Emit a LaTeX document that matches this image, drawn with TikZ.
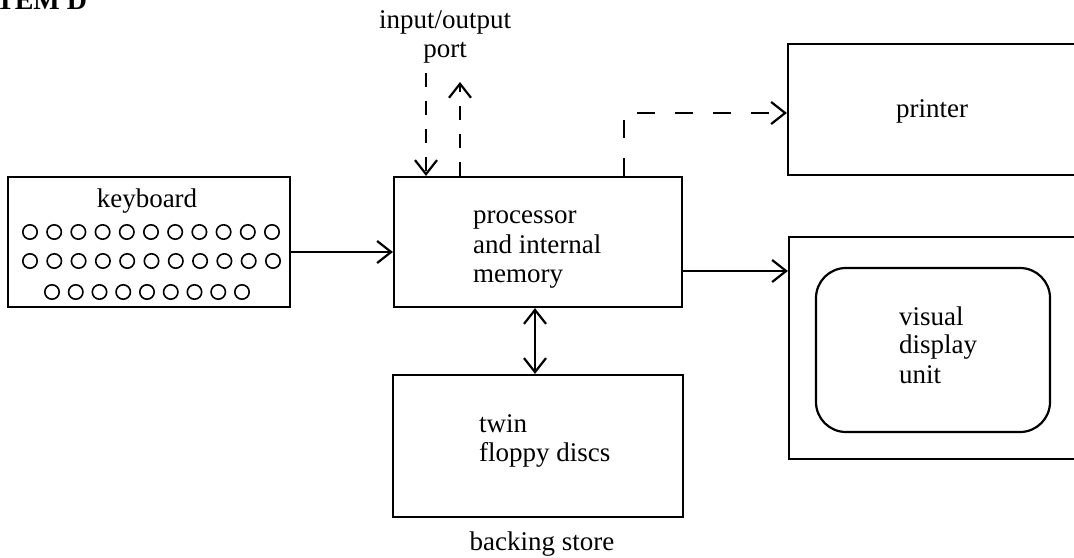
\documentclass[tikz,border=0pt]{standalone}
\usepackage{fontspec}
\setmainfont{Liberation Serif}
\usetikzlibrary{arrows.meta,calc}
\begin{document}
\begin{tikzpicture}[x=0.5pt,y=-0.5pt,
  line width=1.1pt,
  every node/.style={font=\fontsize{13.5}{15}\selectfont, inner sep=0pt},
  block/.style={draw, rectangle, minimum width=#1, line width=1.1pt},
  label/.style={anchor=base west},
  ctext/.style={anchor=base},
  arr/.style={-{Straight Barb[length=7pt,width=11pt,line width=1.1pt]}},
  dblarr/.style={{Straight Barb[length=7pt,width=11pt,line width=1.1pt]}-{Straight Barb[length=7pt,width=11pt,line width=1.1pt]}},
  iodash/.style={dash pattern=on 7pt off 7pt},
  prdash/.style={dash pattern=on 9pt off 10pt},
  key/.style={line width=0.8pt}
]
\useasboundingbox (0,0) rectangle (1074,557);
\clip (0,0) rectangle (1074,557);

% heading
\node[label, font=\fontsize{14}{16}\selectfont\bfseries] (title) at (-5,10) {TEM D};

% blocks
\node[block=141pt, minimum height=65pt] (kb) at (149,242) {};
\node[block=144pt, minimum height=65pt] (proc) at (538,242) {};
\node[block=145pt, minimum height=71pt] (floppy) at (538,446) {};
\node[block=151pt, minimum height=65.5pt] (printer) at (939,109.5) {};
\node[block=150.5pt, minimum height=111pt] (vdu) at (939.5,348) {};
\node[draw, rectangle, rounded corners=15pt, minimum width=117pt, minimum height=82pt, line width=1.1pt] (screen) at (933,350) {};

% keyboard keys
\foreach \i in {0,...,10} {
  \draw[key] (30+24.2*\i,232) circle[radius=3.6pt];
  \draw[key] (30+24.3*\i,261) circle[radius=3.6pt];
}
\foreach \i in {0,...,8} {
  \draw[key] (52+23.75*\i,292) circle[radius=3.6pt];
}

% texts
\node[ctext] (kbtext) at (147,207) {keyboard};
\node[label] (proc1) at (472,223) {processor};
\node[label] (proc2) at (472,253) {and internal};
\node[label] (proc3) at (472,282) {memory};
\node[ctext] (io1) at (445,28) {input/output};
\node[ctext] (io2) at (445,57) {port};
\node[ctext] (prtext) at (932,117) {printer};
\node[label] (vdu1) at (898,325) {visual};
\node[label] (vdu2) at (898,353) {display};
\node[label] (vdu3) at (898,383) {unit};
\node[label] (fl1) at (478,432) {twin};
\node[label] (fl2) at (478,461) {floppy discs};
\node[ctext] (bs) at (542,550) {backing store};

% port connector ends
\coordinate (ioin) at (426,73);
\coordinate (ioout) at (460,82);

% connectors
\draw[arr] ($(kb.east)+(0,10)$) -- ($(proc.west)+(0,10)$);
\draw[arr] ($(proc.east)+(0,29)$) -- ($(vdu.west)+(0,-77)$);
\draw[dblarr] ($(proc.south)+(-3,0)$) -- ($(floppy.north)+(-3,0)$);
\draw[arr, iodash] (ioin) -- (ioin |- proc.north);
\draw[arr, iodash] (ioout |- proc.north) -- (ioout);
\draw[arr, prdash] ($(proc.north)+(86,0)$) |- ($(printer.west)+(0,3.5)$);
\end{tikzpicture}
\end{document}
